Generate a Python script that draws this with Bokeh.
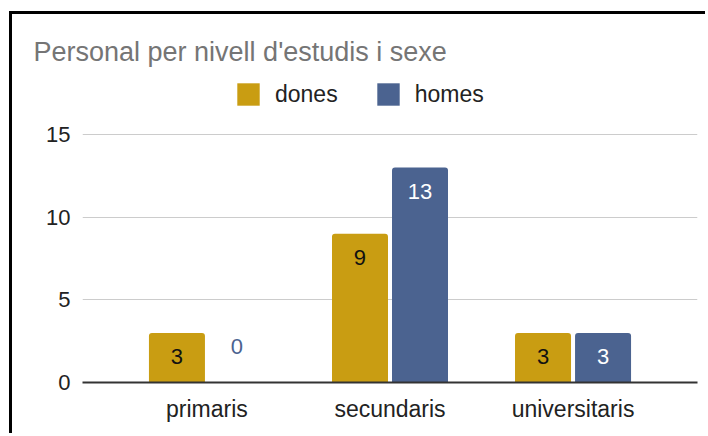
from bokeh.plotting import figure
from bokeh.models import (FactorRange, Range1d, ColumnDataSource, Legend, LegendItem,
                          FixedTicker)
from bokeh.transform import dodge
from bokeh.core.properties import value
from bokeh.embed import file_html
from bokeh.resources import INLINE

categories = ["primaris", "secundaris", "universitaris"]
dones = [3, 9, 3]
homes = [0, 13, 3]
series_names = ["dones", "homes"]
y_ticks = [0, 5, 10, 15]
title_text = "Personal per nivell d'estudis i sexe"

C_DONES = "#c99d12"
C_HOMES = "#4b6390"
FONT = "Liberation Sans"

p = figure(width=696, height=422, x_range=FactorRange(*categories, range_padding=0.18,
           range_padding_units="absolute"), y_range=Range1d(0, 19.11),
           output_backend="svg", toolbar_location=None,
           min_border_left=70, min_border_right=11, min_border_top=52, min_border_bottom=54)
p.outline_line_color = None
p.background_fill_color = "white"
p.border_fill_color = "white"
p.styles = {"border-left": "3px solid black", "border-top": "3px solid black",
            "margin-left": "9px", "margin-top": "11px"}

p.title.text = title_text
p.title.text_font = FONT
p.title.text_font_size = "27px"
p.title.text_font_style = "normal"
p.title.text_color = "#757575"
p.title.align = "left"
p.title.offset = -49
p.title.standoff = 0

src = ColumnDataSource(dict(cat=categories, dones=dones, homes=homes))
r1 = p.vbar(x=dodge("cat", -0.164, range=p.x_range), top="dones", width=0.306, source=src,
            fill_color=C_DONES, line_color=None, border_radius=(3, 3, 0, 0))
r2 = p.vbar(x=dodge("cat", 0.164, range=p.x_range), top="homes", width=0.306, source=src,
            fill_color=C_HOMES, line_color=None, border_radius=(3, 3, 0, 0))

# value labels
for vals, off, inner in ((dones, -0.164, "#111111"), (homes, 0.164, "#ffffff")):
    ls = ColumnDataSource(dict(
        cat=categories, y=vals,
        txt=[str(v) for v in vals],
        yo=[24 if v >= 2 else -36 for v in vals],
        col=[inner if v >= 2 else C_HOMES for v in vals],
    ))
    p.text(x=dodge("cat", off, range=p.x_range), y="y", text="txt", y_offset="yo",
           text_color="col", text_align="center", text_baseline="middle",
           text_font=value(FONT), text_font_size="22px", source=ls)

# axes
p.yaxis.ticker = FixedTicker(ticks=y_ticks)
p.yaxis.axis_line_color = None
p.yaxis.major_tick_line_color = None
p.yaxis.minor_tick_line_color = None
p.yaxis.major_tick_out = 0
p.yaxis.minor_tick_out = 0
p.yaxis.major_label_standoff = 12
p.yaxis.major_label_text_font = FONT
p.yaxis.major_label_text_font_size = "22px"
p.yaxis.major_label_text_color = "#222222"

p.xaxis.axis_line_color = "#333333"
p.xaxis.axis_line_width = 2
p.xaxis.major_tick_line_color = None
p.xaxis.minor_tick_line_color = None
p.xaxis.major_tick_out = 0
p.xaxis.minor_tick_out = 0
p.xaxis.major_label_standoff = 13
p.xaxis.major_label_text_font = FONT
p.xaxis.major_label_text_font_size = "23px"
p.xaxis.major_label_text_color = "#222222"

p.xgrid.grid_line_color = None
p.ygrid.grid_line_color = "#cccccc"
p.ygrid.grid_line_width = 1

legend = Legend(items=[LegendItem(label=series_names[0], renderers=[r1]),
                       LegendItem(label=series_names[1], renderers=[r2])],
                location=(152, 274), orientation="horizontal",
                glyph_width=28, glyph_height=28, label_height=28, label_standoff=13,
                spacing=36, padding=0, margin=0, border_line_color=None,
                background_fill_alpha=0, label_text_font=FONT,
                label_text_font_size="23px", label_text_color="#222222")
p.add_layout(legend)

open("out.html", "w").write(file_html(p, INLINE))
